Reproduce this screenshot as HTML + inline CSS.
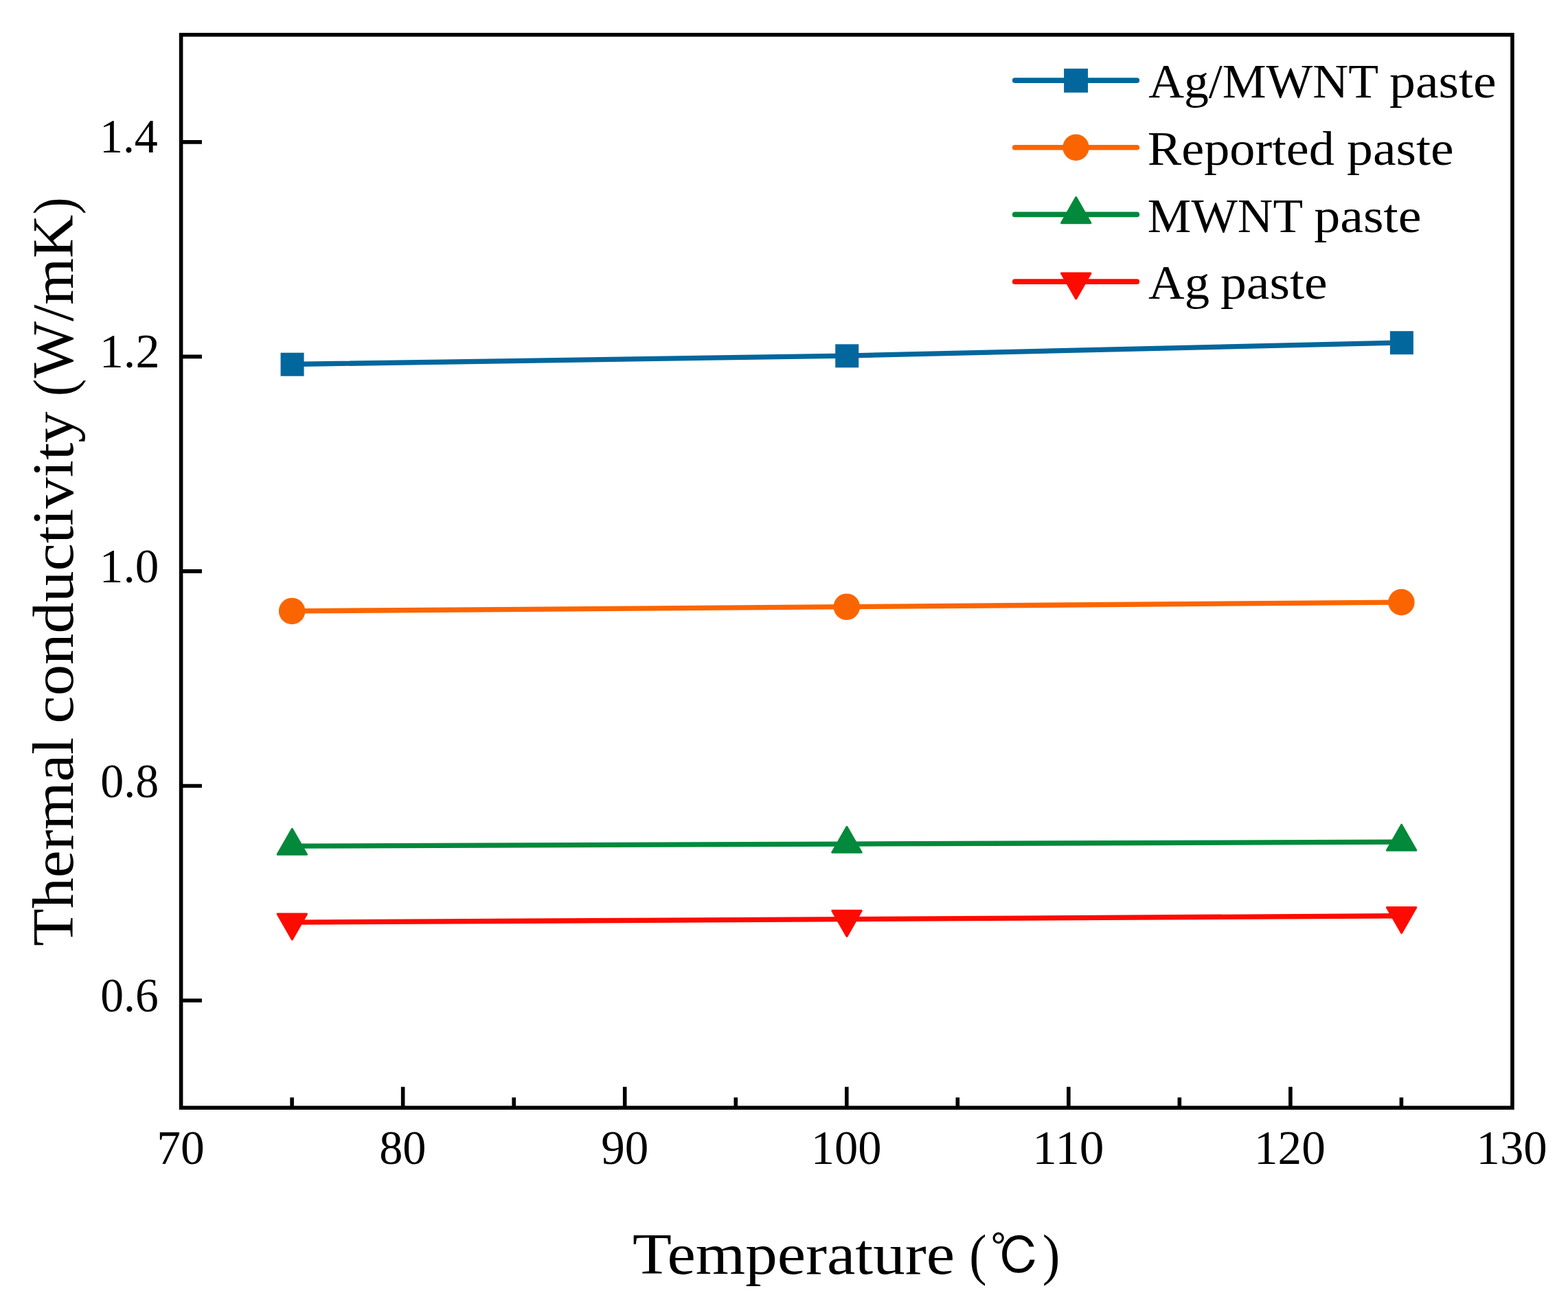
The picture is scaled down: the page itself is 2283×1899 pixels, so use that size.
<!DOCTYPE html>
<html lang="en">
<head>
<meta charset="utf-8">
<title>Thermal conductivity vs temperature</title>
<style>
html,body{margin:0;padding:0;background:#fff;}
body{width:2283px;height:1899px;overflow:hidden;}
svg{display:block;}
text{white-space:pre;}
</style>
</head>
<body>
<svg xmlns="http://www.w3.org/2000/svg" width="2283" height="1899" viewBox="0 0 2283 1899" role="img" aria-label="Thermal conductivity versus temperature">
<rect width="2283" height="1899" fill="#fff"/>
<g class="series">
<polyline points="425.13,530.50 1232.78,518.10 2040.42,499.00" fill="none" stroke="#02679D" stroke-width="7.3" stroke-linejoin="round"/>
<rect x="408.58" y="513.70" width="34.0" height="34.0" fill="#02679D"/>
<rect x="1216.23" y="501.30" width="34.0" height="34.0" fill="#02679D"/>
<rect x="2023.87" y="482.20" width="34.0" height="34.0" fill="#02679D"/>
<polyline points="425.13,889.90 1232.78,883.65 2040.42,877.00" fill="none" stroke="#FB6501" stroke-width="7.3" stroke-linejoin="round"/>
<circle cx="425.13" cy="889.90" r="19.25" fill="#FB6501"/>
<circle cx="1232.78" cy="883.65" r="19.25" fill="#FB6501"/>
<circle cx="2040.42" cy="877.00" r="19.25" fill="#FB6501"/>
<polyline points="425.13,1232.10 1232.78,1229.10 2040.42,1226.05" fill="none" stroke="#02893B" stroke-width="7.3" stroke-linejoin="round"/>
<polygon points="425.33,1207.22 404.13,1244.34 446.53,1244.34" fill="#02893B" stroke="#02893B" stroke-width="3.0" stroke-linejoin="round"/>
<polygon points="1232.98,1204.22 1211.78,1241.34 1254.18,1241.34" fill="#02893B" stroke="#02893B" stroke-width="3.0" stroke-linejoin="round"/>
<polygon points="2040.62,1201.17 2019.42,1238.29 2061.82,1238.29" fill="#02893B" stroke="#02893B" stroke-width="3.0" stroke-linejoin="round"/>
<polyline points="425.13,1343.20 1232.78,1338.55 2040.42,1333.70" fill="none" stroke="#FF0A00" stroke-width="7.3" stroke-linejoin="round"/>
<polygon points="425.33,1368.08 404.13,1330.96 446.53,1330.96" fill="#FF0A00" stroke="#FF0A00" stroke-width="3.0" stroke-linejoin="round"/>
<polygon points="1232.98,1363.43 1211.78,1326.31 1254.18,1326.31" fill="#FF0A00" stroke="#FF0A00" stroke-width="3.0" stroke-linejoin="round"/>
<polygon points="2040.62,1358.58 2019.42,1321.46 2061.82,1321.46" fill="#FF0A00" stroke="#FF0A00" stroke-width="3.0" stroke-linejoin="round"/>
</g>
<g class="axes">
<rect x="263.6" y="50.65" width="1938.35" height="1562.55" fill="none" stroke="#000" stroke-width="5.6"/>
<path d="M586.66 1613.2 V1582.85 M909.72 1613.2 V1582.85 M1232.78 1613.2 V1582.85 M1555.83 1613.2 V1582.85 M1878.89 1613.2 V1582.85 M425.13 1613.2 V1598.30 M748.19 1613.2 V1598.30 M1071.25 1613.2 V1598.30 M1394.30 1613.2 V1598.30 M1717.36 1613.2 V1598.30 M2040.42 1613.2 V1598.30 M263.6 206.91 H293.95 M263.6 519.42 H293.95 M263.6 831.92 H293.95 M263.6 1144.43 H293.95 M263.6 1456.95 H293.95" fill="none" stroke="#000" stroke-width="5.6"/>
</g>
<g class="legend-keys">
<line x1="1477.7" y1="117.05" x2="1655.3" y2="117.05" stroke="#02679D" stroke-width="7.7" stroke-linecap="round"/>
<rect x="1549.10" y="99.90" width="34.9" height="34.9" fill="#02679D"/>
<line x1="1477.7" y1="214.75" x2="1655.3" y2="214.75" stroke="#FB6501" stroke-width="7.7" stroke-linecap="round"/>
<circle cx="1566.50" cy="214.75" r="19.25" fill="#FB6501"/>
<line x1="1477.7" y1="312.45" x2="1655.3" y2="312.45" stroke="#02893B" stroke-width="7.7" stroke-linecap="round"/>
<polygon points="1566.70,287.57 1545.50,324.69 1587.90,324.69" fill="#02893B" stroke="#02893B" stroke-width="3.0" stroke-linejoin="round"/>
<line x1="1477.7" y1="410.15" x2="1655.3" y2="410.15" stroke="#FF0A00" stroke-width="7.7" stroke-linecap="round"/>
<polygon points="1566.70,435.03 1545.50,397.91 1587.90,397.91" fill="#FF0A00" stroke="#FF0A00" stroke-width="3.0" stroke-linejoin="round"/>
</g>
<g class="labels" fill="#000">
<g class="ytick"><text transform="translate(144.92 222.00) scale(0.9653 1)" font-family="'Liberation Serif', serif" font-size="70.4">1.4</text></g>
<g class="ytick"><text transform="translate(144.71 535.00) scale(0.9987 1)" font-family="'Liberation Serif', serif" font-size="70.4">1.2</text></g>
<g class="ytick"><text transform="translate(144.81 848.00) scale(0.9829 1)" font-family="'Liberation Serif', serif" font-size="70.4">1.0</text></g>
<g class="ytick"><text transform="translate(146.24 1161.00) scale(0.9661 1)" font-family="'Liberation Serif', serif" font-size="70.4">0.8</text></g>
<g class="ytick"><text transform="translate(146.26 1473.00) scale(0.9610 1)" font-family="'Liberation Serif', serif" font-size="70.4">0.6</text></g>
<g class="xtick"><text transform="translate(228.20 1695.00) scale(0.9889 1)" font-family="'Liberation Serif', serif" font-size="70.4">70</text></g>
<g class="xtick"><text transform="translate(552.13 1695.00) scale(0.9708 1)" font-family="'Liberation Serif', serif" font-size="70.4">80</text></g>
<g class="xtick"><text transform="translate(875.19 1695.00) scale(0.9817 1)" font-family="'Liberation Serif', serif" font-size="70.4">90</text></g>
<g class="xtick"><text transform="translate(1180.82 1695.00) scale(0.9726 1)" font-family="'Liberation Serif', serif" font-size="70.4">100</text></g>
<g class="xtick"><text transform="translate(1503.16 1695.00) scale(1.0138 1)" font-family="'Liberation Serif', serif" font-size="70.4">110</text></g>
<g class="xtick"><text transform="translate(1825.94 1695.00) scale(0.9850 1)" font-family="'Liberation Serif', serif" font-size="70.4">120</text></g>
<g class="xtick"><text transform="translate(2149.50 1695.00) scale(0.9767 1)" font-family="'Liberation Serif', serif" font-size="70.4">130</text></g>
<g class="legend"><text transform="translate(1672.13 142.00) scale(1.0270 1)" font-family="'Liberation Serif', serif" font-size="69.9">Ag/MWNT</text> <text transform="translate(2023.05 142.00) scale(1.0829 1)" font-family="'Liberation Serif', serif" font-size="69.9">paste</text></g>
<g class="legend"><text transform="translate(1670.78 240.00) scale(1.0618 1)" font-family="'Liberation Serif', serif" font-size="69.9">Reported</text> <text transform="translate(1961.05 240.00) scale(1.0836 1)" font-family="'Liberation Serif', serif" font-size="69.9">paste</text></g>
<g class="legend"><text transform="translate(1670.86 338.00) scale(1.0222 1)" font-family="'Liberation Serif', serif" font-size="69.9">MWNT</text> <text transform="translate(1913.24 338.00) scale(1.0871 1)" font-family="'Liberation Serif', serif" font-size="69.9">paste</text></g>
<g class="legend"><text transform="translate(1672.12 435.00) scale(1.0414 1)" font-family="'Liberation Serif', serif" font-size="69.9">Ag</text> <text transform="translate(1776.95 435.00) scale(1.0836 1)" font-family="'Liberation Serif', serif" font-size="69.9">paste</text></g>
<g class="xtitle"><text transform="translate(921.06 1855.00) scale(1.0914 1)" font-family="'Liberation Serif', serif" font-size="85.3">Temperature</text> <text transform="translate(1411.18 1855.00) scale(0.9129 1)" font-family="'Liberation Serif', serif" font-size="82.98">(</text><text transform="translate(1441.83 1856.00) scale(0.9792 1)" font-family="'Liberation Serif', 'IPAGothic', sans-serif" font-size="74.25">℃</text><text transform="translate(1517.85 1855.00) scale(0.9271 1)" font-family="'Liberation Serif', serif" font-size="82.98">)</text></g>
<g class="ytitle"><text transform="translate(106.00 1376.40) rotate(-90) translate(-1.58 0) scale(1.0530 1)" font-family="'Liberation Serif', serif" font-size="85.3">Thermal</text> <text transform="translate(106.00 1050.20) rotate(-90) translate(-3.46 0) scale(1.0654 1)" font-family="'Liberation Serif', serif" font-size="85.3">conductivity</text> <text transform="translate(106.85 573.60) rotate(-90) translate(-3.40 0) scale(0.9070 1)" font-family="'Liberation Serif', serif" font-size="83.64">(</text><text transform="translate(106.00 550.50) rotate(-90) translate(-0.00 0) scale(1.0236 1)" font-family="'Liberation Serif', serif" font-size="85.3">W/mK</text><text transform="translate(106.85 309.70) rotate(-90) translate(-2.44 0) scale(0.8884 1)" font-family="'Liberation Serif', serif" font-size="83.64">)</text></g>
</g>
</svg>
</body>
</html>
